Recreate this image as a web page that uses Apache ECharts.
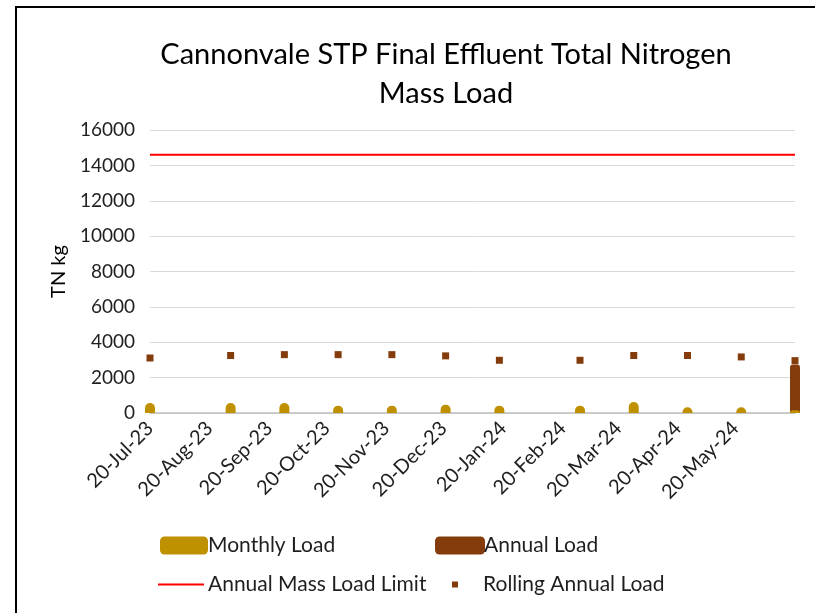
<!DOCTYPE html>
<html>
<head>
<meta charset="utf-8">
<script src="https://cdn.jsdelivr.net/npm/echarts@6/dist/echarts.min.js"></script>
<style>
  html, body { margin: 0; padding: 0; background: #fff; }
  #main { width: 815px; height: 613px; }
</style>
</head>
<body>
<div id="main"></div>
<script>
// sample dates (Thursdays) and loads
var sampleDates = ['2023-07-20', '2023-08-31', '2023-09-28', '2023-10-26', '2023-11-23', '2023-12-21',
                   '2024-01-18', '2024-02-29', '2024-03-28', '2024-04-25', '2024-05-23', '2024-06-20'];
var monthlyLoad = [567, 567, 567, 415, 415, 473, 415, 415, 624, 321, 321, 150];
var rollingAnnual = [3110, 3250, 3300, 3300, 3300, 3230, 2980, 2980, 3250, 3250, 3170, 2960];
var annualDates = ['2024-06-20'];
var annualLoad = [2740];
var limitDates = ['2023-07-20', '2024-06-20'];
var limitValue = [14600, 14600];
var tickDates = ['2023-07-20', '2023-08-20', '2023-09-20', '2023-10-20', '2023-11-20', '2023-12-20',
                 '2024-01-20', '2024-02-20', '2024-03-20', '2024-04-20', '2024-05-20'];

function toTime(s) {
    var p = s.split('-');
    return new Date(+p[0], +p[1] - 1, +p[2]).getTime();
}
var MONTHS = ['Jan','Feb','Mar','Apr','May','Jun','Jul','Aug','Sep','Oct','Nov','Dec'];
function fmtDate(v) {
    var d = new Date(v);
    var dd = ('0' + d.getDate()).slice(-2);
    return dd + '-' + MONTHS[d.getMonth()] + '-' + String(d.getFullYear()).slice(-2);
}
function pairs(dates, vals) {
    return dates.map(function (d, i) { return [toTime(d), vals[i]]; });
}

var FONT = 'Lato';
var TXT = '#1f1f1f';

var myChart = echarts.init(document.getElementById('main'));
myChart.setOption({
    animation: false,
    textStyle: { fontFamily: FONT },
    title: {
        text: 'Cannonvale STP Final Effluent Total Nitrogen\nMass Load',
        left: 441,
        textAlign: 'center',
        top: 30,
        textStyle: { fontFamily: FONT, fontSize: 29, fontWeight: 'normal', color: '#000', lineHeight: 39 }
    },
    graphic: [{
        type: 'polyline',
        shape: { points: [[16, 640], [16, 7], [830, 7]] },
        style: { stroke: '#000', lineWidth: 2, fill: null }
    }],
    legend: [
        { data: ['Monthly Load'], left: 155, top: 530, icon: 'roundRect', itemWidth: 48, itemHeight: 18, itemGap: 0,
          textStyle: { fontFamily: FONT, fontSize: 21, color: TXT, padding: [0, 0, 0, -5] } },
        { data: ['Annual Load'], left: 430, top: 530, icon: 'roundRect', itemWidth: 50, itemHeight: 18,
          textStyle: { fontFamily: FONT, fontSize: 21, color: TXT, padding: [0, 0, 0, -6] } },
        { data: ['Annual Mass Load Limit'], left: 153, top: 569, icon: 'rect', itemWidth: 46, itemHeight: 2,
          textStyle: { fontFamily: FONT, fontSize: 21, color: TXT, padding: [0, 0, 0, -1] } },
        { data: ['Rolling Annual Load'], left: 447, top: 569, icon: 'rect', itemWidth: 6, itemHeight: 6,
          textStyle: { fontFamily: FONT, fontSize: 21, color: TXT, padding: [0, 0, 0, 20] } }
    ],
    grid: { left: 150, right: 20, top: 130, bottom: 200 },
    xAxis: {
        type: 'value',
        min: toTime(sampleDates[0]),
        max: toTime(sampleDates[sampleDates.length - 1]),
        axisLine: { show: true, onZero: false, lineStyle: { color: '#BFBFBF', width: 1.5 } },
        axisTick: { show: false },
        splitLine: { show: false },
        axisLabel: {
            customValues: tickDates.map(toTime),
            formatter: fmtDate,
            rotate: 45,
            fontFamily: FONT,
            fontSize: 20,
            color: TXT,
            margin: 12
        }
    },
    yAxis: {
        type: 'value',
        min: 0,
        max: 16000,
        interval: 2000,
        name: 'TN kg',
        nameLocation: 'middle',
        nameGap: 80,
        nameTextStyle: { fontFamily: FONT, fontSize: 20, color: '#000' },
        axisLine: { show: false },
        axisTick: { show: false },
        axisLabel: { fontFamily: FONT, fontSize: 19, color: TXT, margin: 15, formatter: function (v) { return String(v); } },
        splitLine: { lineStyle: { color: '#D9D9D9', width: 1 } }
    },
    series: [
        {
            name: 'Annual Mass Load Limit',
            type: 'line',
            data: pairs(limitDates, limitValue),
            showSymbol: false,
            lineStyle: { color: '#FF0000', width: 2 },
            itemStyle: { color: '#FF0000' }
        },
        {
            name: 'Annual Load',
            type: 'bar',
            data: pairs(annualDates, annualLoad),
            barWidth: 10,
            barGap: '-100%',
            itemStyle: { color: '#843C0C', borderRadius: [3, 3, 0, 0] }
        },
        {
            name: 'Monthly Load',
            type: 'bar',
            data: pairs(sampleDates, monthlyLoad),
            barWidth: 10,
            barGap: '-100%',
            itemStyle: { color: '#BF9000', borderRadius: [5, 5, 0, 0] }
        },
        {
            name: 'Rolling Annual Load',
            type: 'scatter',
            data: pairs(sampleDates, rollingAnnual),
            symbol: 'rect',
            symbolSize: 7,
            itemStyle: { color: '#843C0C', opacity: 1 }
        }
    ]
});
</script>
</body>
</html>
